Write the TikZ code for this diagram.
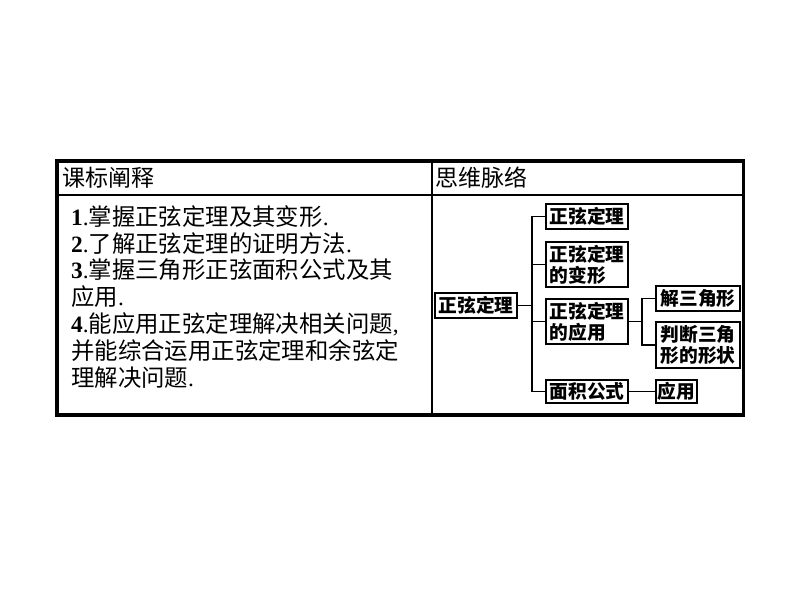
\documentclass[tikz,border=0pt]{standalone}
\usepackage{fontspec}
\setmainfont{Noto Sans CJK SC}
\newfontfamily\tnr{Liberation Serif}
\usetikzlibrary{positioning}
\newcommand{\itemno}[1]{{\tnr\bfseries #1}{\tnr .}}
\newcommand{\zhdot}{{\tnr .}}
\newcommand{\zhcomma}{{\tnr ,}}

\begin{document}
\begin{tikzpicture}[x=1pt,y=-1pt,
  frame/.style={line width=3.5pt},
  rule/.style={line width=2pt},
  head/.style={anchor=west,inner sep=0pt,font=\fontsize{23}{23}\selectfont},
  goal/.style={anchor=west,inner sep=0pt,font=\fontsize{23.4}{23.4}\selectfont},
  box/.style={draw,line width=2pt,inner sep=0pt,align=left,
    font=\fontsize{18.7}{21}\selectfont\bfseries},
  link/.style={line width=1.6pt}]
  \useasboundingbox (0,0) rectangle (794,596);

  % table frame
  \draw[frame] (57,161) rectangle (743.5,415);
  \draw[rule] (57,194.8) -- (743.5,194.8);
  \draw[rule] (432,161) -- (432,415);

  % headers
  \node[head] (hleft) at (62,178) {课标阐释};
  \node[head] (hright) at (435,178) {思维脉络};

  % left column
  \node[goal] (g1) at (71,217) {\itemno{1}掌握正弦定理及其变形\zhdot};
  \node[goal] (g2) at (71,243.5) {\itemno{2}了解正弦定理的证明方法\zhdot};
  \node[goal] (g3) at (71,270) {\itemno{3}掌握三角形正弦面积公式及其};
  \node[goal] (g4) at (71,297) {应用\zhdot};
  \node[goal] (g5) at (71,324) {\itemno{4}能应用正弦定理解决相关问题\zhcomma};
  \node[goal] (g6) at (71,351) {并能综合运用正弦定理和余弦定};
  \node[goal] (g7) at (71,378) {理解决问题\zhdot};

  % mind map
  \node[box,minimum width=82pt,minimum height=25pt] (main) at (476,305.5) {正弦定理};
  \node[box,minimum width=82pt,minimum height=25pt] (law) at (587,216.5) {正弦定理};
  \node[box,minimum width=82pt,minimum height=45pt] (var) at (587,264.5) {正弦定理\\的变形};
  \node[box,minimum width=82pt,minimum height=45pt] (use) at (587,321.5) {正弦定理\\的应用};
  \node[box,minimum width=82pt,minimum height=23pt] (area) at (587,391.5) {面积公式};
  \node[box,minimum width=84pt,minimum height=25pt] (solve) at (698,298.5) {解三角形};
  \node[box,minimum width=84pt,minimum height=46pt] (shape) at (698,345) {判断三角\\形的形状};
  \node[box,minimum width=41pt,minimum height=23pt] (app) at (676.5,391.5) {应用};

  \coordinate (j1) at (532,305.5);
  \coordinate (j2) at (642,321.5);

  \draw[link] (main.east) -- (j1);
  \draw[link] (law.west) -- (law.west -| j1) -- (area.west -| j1) -- (area.west);
  \draw[link] (var.west) -- (var.west -| j1);
  \draw[link] (use.west) -- (use.west -| j1);
  \draw[link] (use.east) -- (j2);
  \draw[link] (solve.west) -- (solve.west -| j2) -- (shape.west -| j2) -- (shape.west);
  \draw[link] (area.east) -- (app.west);
\end{tikzpicture}
\end{document}
